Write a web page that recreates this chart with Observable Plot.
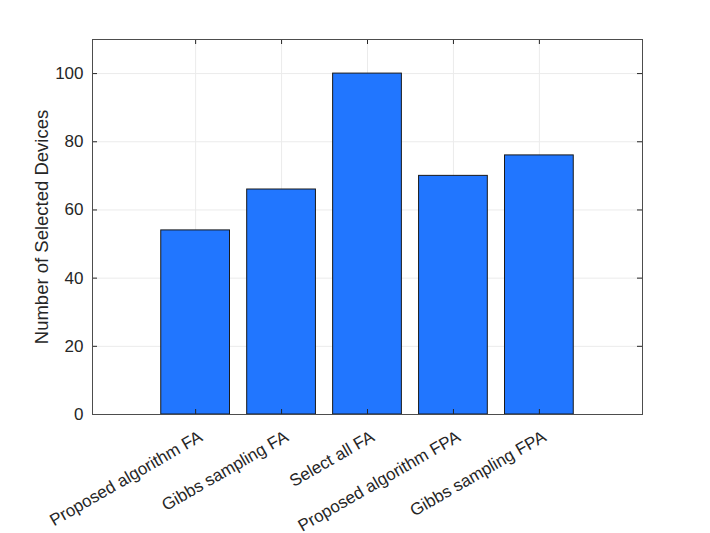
<!DOCTYPE html>
<html><head><meta charset="utf-8">
<script src="https://cdn.jsdelivr.net/npm/d3@7"></script>
<script src="https://cdn.jsdelivr.net/npm/@observablehq/plot@0.6"></script>
<style>body{margin:0;background:#fff}</style>
</head><body><div id="chart"></div>
<script>
const categories = ["Proposed algorithm FA", "Gibbs sampling FA", "Select all FA", "Proposed algorithm FPA", "Gibbs sampling FPA"];
const values = [54, 66, 100, 70, 76];
const yTicks = [0, 20, 40, 60, 80, 100];
const yLabel = "Number of Selected Devices";

const data = categories.map((c, i) => ({c, pos: i + 1, v: values[i]}));
const xPos = data.map(d => d.pos);
const ink = "#262626";
const font = "'Liberation Sans', Arial, Helvetica, sans-serif";

const chart = Plot.plot({
  width: 710, height: 533,
  marginLeft: 92, marginRight: 68, marginTop: 39, marginBottom: 119,
  style: {fontFamily: font, fontSize: "17px", color: ink, background: "#fff"},
  x: {domain: [-0.2, 6.2], axis: null},
  y: {domain: [0, 110], axis: null},
  marks: [
    Plot.ruleY(yTicks, {y: d => d, stroke: "#ebebeb", strokeOpacity: 1}),
    Plot.ruleX(xPos, {x: d => d, stroke: "#ebebeb", strokeOpacity: 1}),
    Plot.rectY(data, {x1: d => d.pos - 0.4, x2: d => d.pos + 0.4, y1: 0, y2: "v", fill: "#2176ff", stroke: "#1a1a1a", strokeWidth: 1}),
    Plot.tickY(yTicks, {y: d => d, insetRight: 545, stroke: ink}),
    Plot.tickY(yTicks, {y: d => d, insetLeft: 545, stroke: ink}),
    Plot.tickX(xPos, {x: d => d, insetTop: 370, stroke: ink}),
    Plot.tickX(xPos, {x: d => d, insetBottom: 370, stroke: ink}),
    Plot.frame({stroke: "#4d4d4d"}),
    Plot.text(yTicks, {y: d => d, text: d => String(d), frameAnchor: "left", textAnchor: "end", dx: -9, fill: ink}),
    Plot.text(data, {x: "pos", text: "c", frameAnchor: "bottom", rotate: -30, textAnchor: "end", lineAnchor: "top", dx: 2, dy: 15, fill: ink}),
    Plot.text([yLabel], {text: d => d, frameAnchor: "left", rotate: -90, textAnchor: "middle", lineAnchor: "bottom", dx: -45, fontSize: 18.5, fill: ink})
  ]
});
document.getElementById("chart").appendChild(chart);
</script>
</body></html>
